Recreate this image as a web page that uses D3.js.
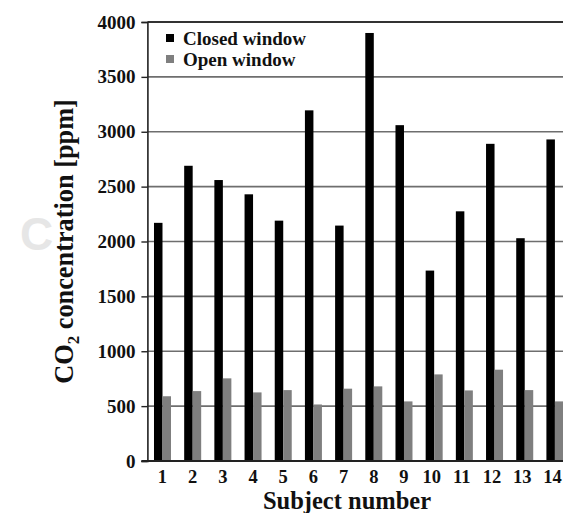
<!DOCTYPE html>
<html><head><meta charset="utf-8">
<script src="https://cdn.jsdelivr.net/npm/d3@7"></script>
<style>
html,body{margin:0;padding:0;background:#fff;}
svg{display:block;}
text{font-family:"Liberation Serif","Times New Roman",serif;font-weight:bold;fill:#111;}
</style></head>
<body><svg id="c" width="563" height="513"></svg>
<script>
const subjects = ["1","2","3","4","5","6","7","8","9","10","11","12","13","14"];
const closedWindow = [2170, 2690, 2560, 2430, 2190, 3195, 2145, 3900, 3060, 1735, 2275, 2890, 2030, 2930];
const openWindow = [590, 637, 753, 625, 646, 515, 659, 680, 543, 789, 643, 832, 646, 543];
const seriesNames = ["Closed window", "Open window"];
const seriesColors = ["#000000", "#7f7f7f"];
const yTicks = [0, 500, 1000, 1500, 2000, 2500, 3000, 3500, 4000];

(function () {
const svg = d3.select("#c");
const W = 563, H = 513;
const mLeft = 147.4, mTop = 22, mBottom = 461, mRight = 570;

const x0 = d3.scaleBand().domain(subjects).range([mLeft, mRight]).paddingInner(0).paddingOuter(0);
const x1 = d3.scaleBand().domain(seriesNames).range([x0.bandwidth()/2 - 8.5, x0.bandwidth()/2 + 8.5]).padding(0);
const y = d3.scaleLinear().domain([0, 4000]).range([mBottom, mTop]);

// watermark C
svg.append("text").attr("x", 20).attr("y", 250).style("font-family","Liberation Sans, Arial, sans-serif")
  .style("font-size","46px").style("fill","#e6e6e6").text("C");

// gridlines
svg.append("g").selectAll("line").data(yTicks.filter(d => d > 0 && d < 4000)).join("line")
  .attr("x1", mLeft).attr("x2", W).attr("y1", d => y(d)).attr("y2", d => y(d))
  .attr("stroke", "#6e6e6e").attr("stroke-width", 1.6);
// top line
svg.append("line").attr("x1", mLeft).attr("x2", W).attr("y1", y(4000)).attr("y2", y(4000))
  .attr("stroke", "#333").attr("stroke-width", 2);

// bars
const rows = subjects.map((s, i) => ({s, vals: [closedWindow[i], openWindow[i]]}));
const g = svg.append("g").selectAll("g").data(rows).join("g")
  .attr("transform", d => `translate(${x0(d.s)},0)`);
g.selectAll("rect").data(d => d.vals.map((v, k) => ({k, v}))).join("rect")
  .attr("x", d => x1(seriesNames[d.k])).attr("width", x1.bandwidth())
  .attr("y", d => y(d.v)).attr("height", d => y(0) - y(d.v))
  .attr("fill", d => seriesColors[d.k]);

// y axis
const ya = svg.append("g").attr("transform", `translate(${mLeft},0)`)
  .call(d3.axisLeft(y).tickValues(yTicks).tickSize(6).tickPadding(6).tickFormat(d3.format("d")));
ya.select(".domain").attr("stroke", "#222").attr("stroke-width", 1.6);
ya.selectAll(".tick line").attr("stroke", "#222").attr("stroke-width", 1.4);
ya.selectAll(".tick text").style("font-size", "19px").attr("fill", "#111")
  .style("font-family", "Liberation Serif, serif").style("font-weight", "bold");

// x axis
const xa = svg.append("g").attr("transform", `translate(0,${mBottom})`)
  .call(d3.axisBottom(x0).tickSize(0).tickPadding(9));
xa.select(".domain").remove();
svg.append("line").attr("x1", mLeft - 6).attr("x2", W).attr("y1", mBottom).attr("y2", mBottom)
  .attr("stroke", "#222").attr("stroke-width", 2);
xa.selectAll(".tick text").style("font-size", "18.5px").attr("fill", "#111").attr("dx", d => d.length > 1 ? -2.5 : 0)
  .style("font-family", "Liberation Serif, serif").style("font-weight", "bold");

// axis titles
svg.append("text").attr("x", 347).attr("y", 509).attr("text-anchor", "middle")
  .style("font-size", "24.5px").text("Subject number");
const yt = svg.append("text").attr("transform", "translate(73,241.5) rotate(-90)")
  .attr("text-anchor", "middle").style("font-size", "26.3px");
yt.append("tspan").text("CO");
yt.append("tspan").attr("dy", 6).style("font-size", "17px").text("2");
yt.append("tspan").attr("dy", -6).text(" concentration [ppm]");

// legend
const lg = svg.append("g").selectAll("g").data(seriesNames).join("g")
  .attr("transform", (d, i) => `translate(166,${39 + i * 21})`);
lg.append("rect").attr("x", 0).attr("y", -5).attr("width", 8).attr("height", 8)
  .attr("fill", (d, i) => seriesColors[i]);
lg.append("text").attr("x", 17).attr("y", 6).style("font-size", "19px").text(d => d);
})();
</script></body></html>
